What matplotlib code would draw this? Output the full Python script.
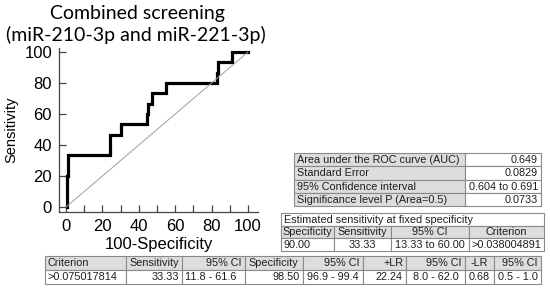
import matplotlib.pyplot as plt
from matplotlib.patches import Rectangle

# ROC curve operating points (100-Specificity, Sensitivity)
fpr = [0.4, 1.3, 24.2, 30.2, 44.3, 45.2, 47.1, 55.0, 82.8, 83.7, 91.0, 100]
tpr = [0, 20, 33.3, 46.7, 53.3, 60, 66.7, 73.3, 80, 86.7, 93.3, 100]

auc_labels = ["Area under the ROC curve (AUC)", "Standard Error",
              "95% Confidence interval", "Significance level P (Area=0.5)"]
auc_values = ["0.649", "0.0829", "0.604 to 0.691", "0.0733"]

fixed_title = "Estimated sensitivity at fixed specificity"
fixed_header = ["Specificity", "Sensitivity", "95% CI", "Criterion"]
fixed_row = ["90.00", "33.33", "13.33 to 60.00", ">0.038004891"]

crit_header = ["Criterion", "Sensitivity", "95% CI", "Specificity", "95% CI",
               "+LR", "95% CI", "-LR", "95% CI"]
crit_row = [">0.075017814", "33.33", "11.8 - 61.6", "98.50", "96.9 - 99.4",
            "22.24", "8.0 - 62.0", "0.68", "0.5 - 1.0"]

plt.rcParams['font.family'] = ['Liberation Sans', 'DejaVu Sans']

GRAY = '#dddddd'
EDGE = '#8a8a8a'
TXT = '#1e1e1e'

fig = plt.figure(figsize=(5.5, 2.89), dpi=100)

ax = fig.add_axes([59 / 550, 77 / 289, 199 / 550, 164 / 289])
ax.plot(fpr, tpr, drawstyle='steps-pre', color='black', lw=2.3,
        solid_joinstyle='miter')
ax.plot([0, 100], [0, 100], color='#a0a0a0', lw=0.7)
ax.set_xlim(-3.85, 105.5)
ax.set_ylim(-3.2, 102.6)
ax.spines['top'].set_visible(False)
ax.spines['right'].set_visible(False)
for s in ['left', 'bottom']:
    ax.spines[s].set_color('#444444')
    ax.spines[s].set_linewidth(0.9)
ax.set_xticks(range(0, 101, 20))
ax.set_xticks(range(0, 101, 10), minor=True)
ax.set_yticks(range(0, 101, 20))
ax.tick_params(direction='in', length=5, width=0.9, color='#444444',
               labelsize=12, pad=5)
ax.tick_params(which='minor', direction='in', length=5, width=0.9,
               color='#444444')
ax.set_xlabel('100-Specificity', fontsize=12, labelpad=2)
ax.set_ylabel('Sensitivity', fontsize=10.5, labelpad=4)

fig.text(137 / 550, 1 - 13 / 289, 'Combined screening', family='Lato',
         fontsize=14, ha='center', va='center')
fig.text(136 / 550, 1 - 35 / 289, '(miR-210-3p and miR-221-3p)', family='Lato',
         fontsize=14, ha='center', va='center')

# overlay in pixel units for the tables
tab = fig.add_axes([0, 0, 1, 1])
tab.set_xlim(0, 550)
tab.set_ylim(289, 0)
tab.axis('off')


def draw_row(x0, y0, widths, h, texts, aligns, fills):
    x = x0
    for w, t, a, f in zip(widths, texts, aligns, fills):
        tab.add_patch(Rectangle((x, y0), w, h, facecolor=f, edgecolor=EDGE, lw=0.8))
        if a == 'left':
            tx = x + 3
        elif a == 'right':
            tx = x + w - 3
        else:
            tx = x + w / 2
        tab.text(tx, y0 + h / 2 + 0.5, t, ha=a, va='center', fontsize=7.8, color=TXT)
        x += w


# AUC table
y = 153
for lab, val in zip(auc_labels, auc_values):
    draw_row(294, y, [171, 76], 13.25, [lab, val], ['left', 'right'], [GRAY, 'white'])
    y += 13.25

# fixed specificity table
w2 = [53, 57, 78, 75]
draw_row(281, 213, [sum(w2)], 12.5, [fixed_title], ['left'], ['white'])
draw_row(281, 225.5, w2, 12.5, fixed_header, ['center'] * 4, [GRAY] * 4)
draw_row(281, 238, w2, 12.5, fixed_row, ['left', 'center', 'center', 'center'], ['white'] * 4)

# criterion table
w3 = [81, 56, 63, 58, 60, 43, 59, 29, 47]
draw_row(45, 256, w3, 14, crit_header,
         ['left', 'right', 'right', 'left', 'right', 'right', 'right', 'center', 'right'],
         [GRAY] * 9)
draw_row(45, 270, w3, 14, crit_row,
         ['left', 'right', 'left', 'right', 'center', 'right', 'center', 'center', 'center'],
         ['white'] * 9)

fig.savefig('out.png', dpi=100)
